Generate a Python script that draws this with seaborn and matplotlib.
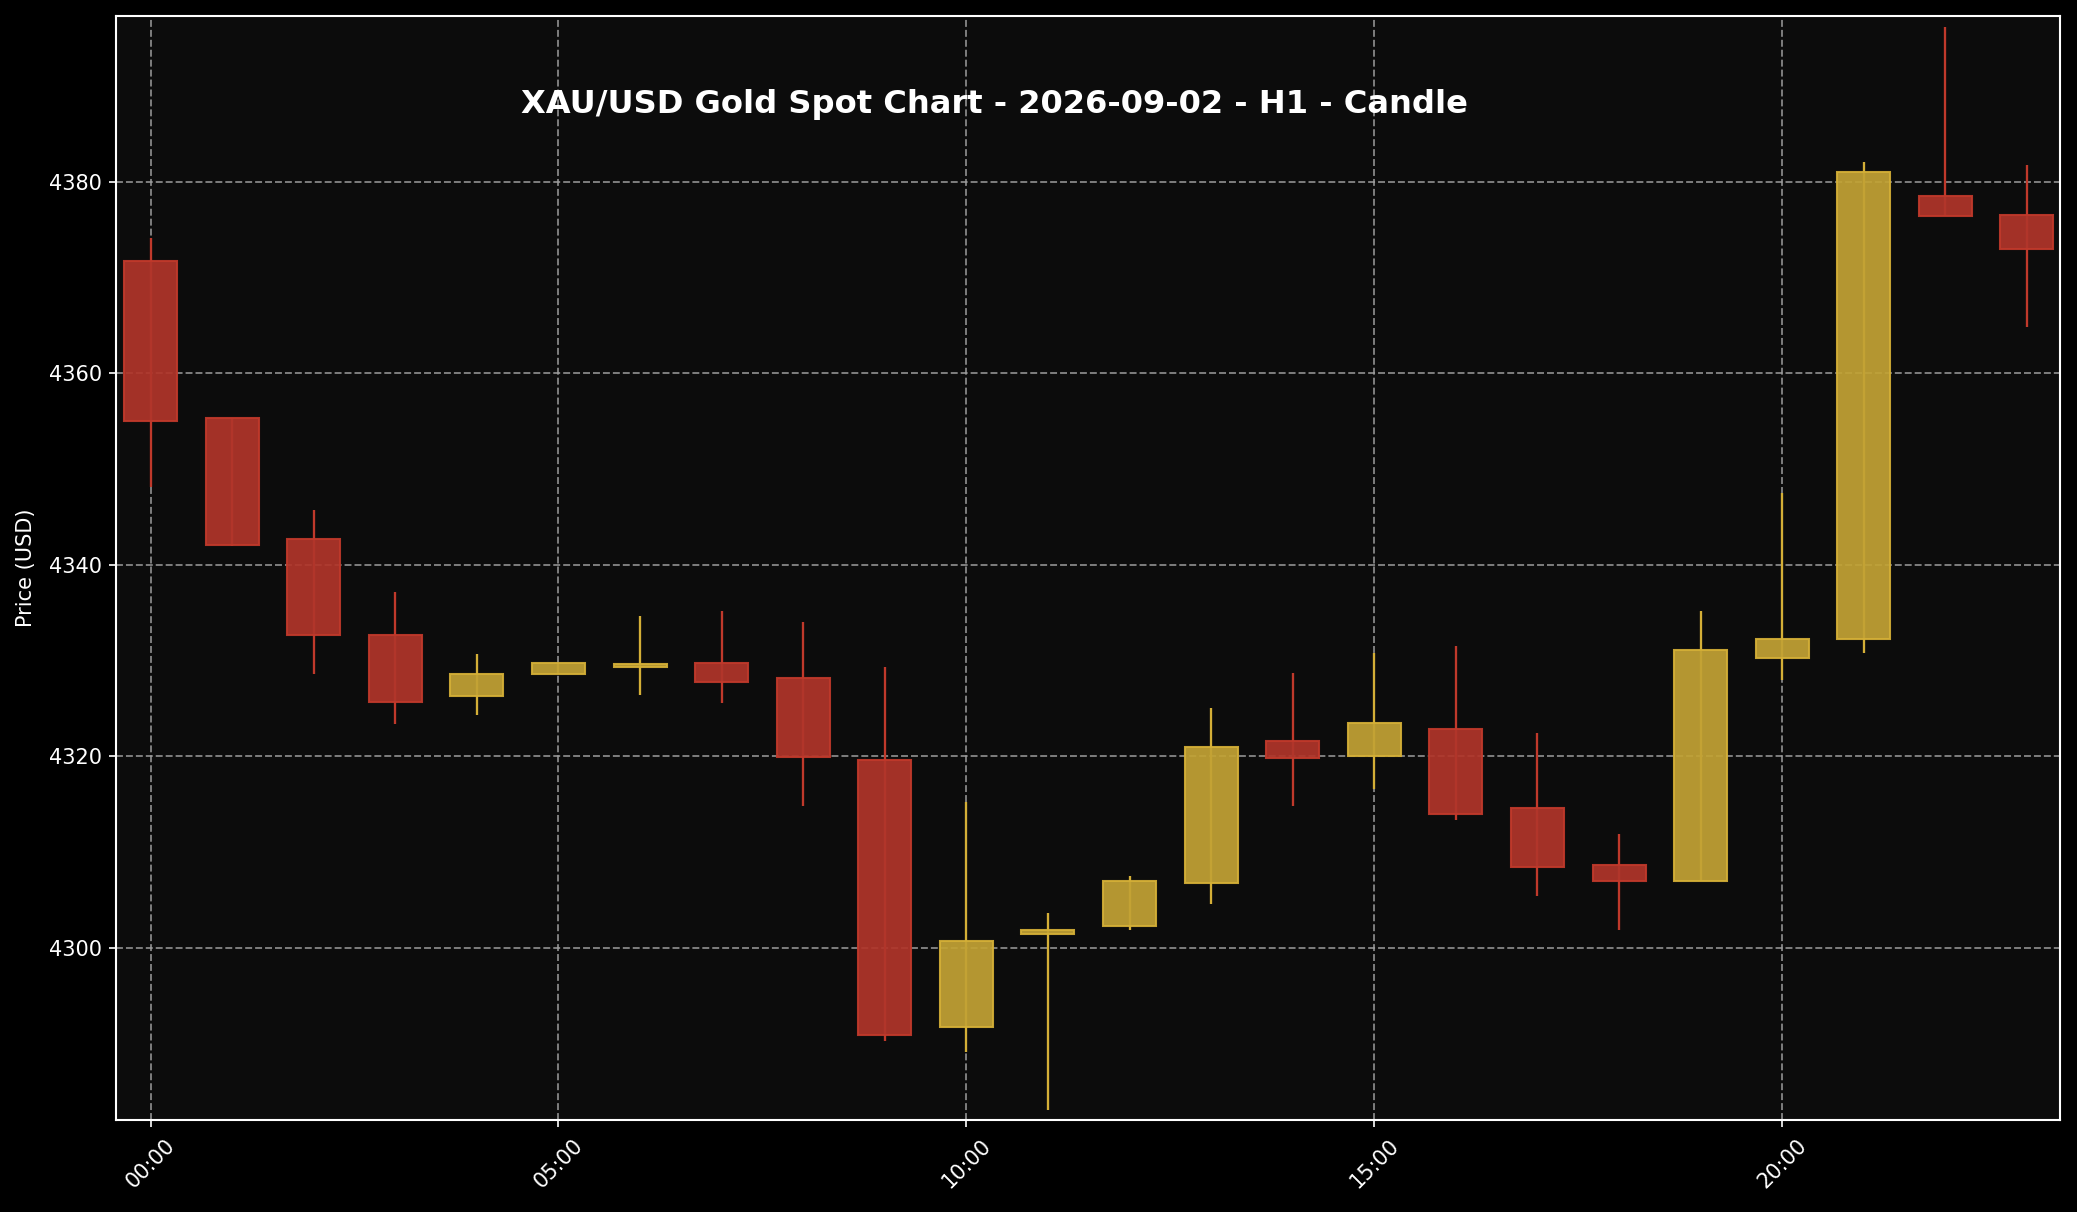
import numpy as np
import pandas as pd
import seaborn as sns
import matplotlib.pyplot as plt

# hourly OHLC, XAU/USD 2026-09-02
hours = list(range(24))
opens = [4371.7, 4355.3, 4342.7, 4332.7, 4326.3, 4328.6, 4329.3, 4329.7,
         4328.2, 4319.6, 4291.7, 4301.4, 4302.3, 4306.8, 4321.6, 4320.0,
         4322.9, 4314.6, 4308.6, 4307.0, 4330.3, 4332.2, 4378.5, 4376.5]
closes = [4355.0, 4342.1, 4332.7, 4325.7, 4328.6, 4329.7, 4329.6, 4327.8,
          4319.9, 4290.9, 4300.7, 4301.9, 4307.0, 4321.0, 4319.8, 4323.5,
          4314.0, 4308.4, 4307.0, 4331.1, 4332.2, 4381.0, 4376.4, 4373.0]
highs = [4374.1, 4355.3, 4345.7, 4337.2, 4330.7, 4329.7, 4334.7, 4335.2,
         4334.0, 4329.3, 4315.2, 4303.6, 4307.5, 4325.0, 4328.7, 4330.8,
         4331.5, 4322.4, 4311.9, 4335.2, 4347.5, 4382.1, 4396.2, 4381.7]
lows = [4348.1, 4342.0, 4328.6, 4323.4, 4324.3, 4328.6, 4326.4, 4325.6,
        4314.8, 4290.3, 4289.1, 4283.1, 4301.9, 4304.6, 4314.8, 4316.6,
        4313.3, 4305.4, 4301.9, 4307.0, 4328.0, 4330.8, 4376.4, 4364.8]
tick_hours = [0, 5, 10, 15, 20]
tick_labels = ['00:00', '05:00', '10:00', '15:00', '20:00']

df = pd.DataFrame({'hour': hours, 'open': opens, 'high': highs,
                   'low': lows, 'close': closes})
df['up'] = df['close'] >= df['open']

sns.set_style('dark', {
    'axes.facecolor': '#0c0c0c',
    'figure.facecolor': 'black',
    'axes.edgecolor': 'white',
    'axes.labelcolor': 'white',
    'xtick.color': 'white',
    'ytick.color': 'white',
    'text.color': 'white',
    'xtick.bottom': True,
    'ytick.left': True,
})
plt.rcParams['font.family'] = ['DejaVu Sans']

up_fill, up_edge = '#c2a234', '#d4af37'
dn_fill, dn_edge = '#b0352a', '#c0392b'

fig, ax = plt.subplots(figsize=(2077 / 150, 1212 / 150), dpi=150)
fig.subplots_adjust(left=0.056, right=0.992, top=0.987, bottom=0.0755)

ax.grid(True, color='#a0a0a0', linestyle='--', linewidth=0.9, alpha=0.8)
ax.set_axisbelow(True)

for up, fill, edge in [(True, up_fill, up_edge), (False, dn_fill, dn_edge)]:
    d = df[df['up'] == up]
    ax.vlines(d['hour'], d['low'], d['high'], color=edge, linewidth=1.1, zorder=2)
    body_lo = d[['open', 'close']].min(axis=1)
    body_hi = d[['open', 'close']].max(axis=1)
    ax.bar(d['hour'], body_hi - body_lo, bottom=body_lo, width=0.65,
           color=fill, edgecolor=edge, linewidth=1.0, alpha=0.93, zorder=3)

span = max(highs) - min(lows)
ax.set_ylim(min(lows) - 0.01 * span, max(highs) + 0.01 * span)
ax.set_xlim(-0.42, 23.41)
ax.set_xticks(tick_hours)
ax.set_xticklabels(tick_labels, rotation=45, fontsize=10)
ax.tick_params(axis='y', labelsize=10)
ax.set_ylabel('Price (USD)', fontsize=10, labelpad=6)
for s in ax.spines.values():
    s.set_color('white')
    s.set_linewidth(1.0)

fig.text(0.479, 0.914, 'XAU/USD Gold Spot Chart - 2026-09-02 - H1 - Candle',
         ha='center', va='center', fontsize=15.4, fontweight='bold', color='white')

fig.savefig('out.png', dpi=150, facecolor=fig.get_facecolor())
